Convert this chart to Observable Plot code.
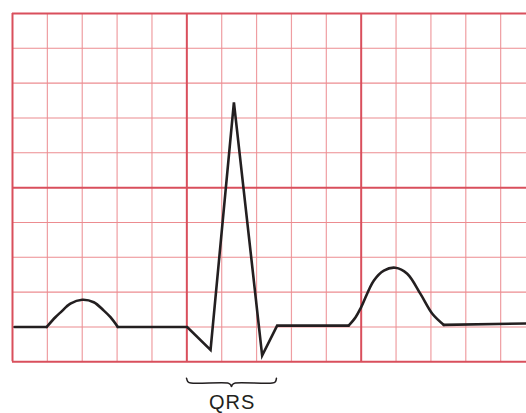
<!DOCTYPE html>
<html>
<head>
<meta charset="utf-8">
<script src="https://cdn.jsdelivr.net/npm/d3@7"></script>
<script src="https://cdn.jsdelivr.net/npm/@observablehq/plot@0.6"></script>
<style>
  html, body { margin: 0; padding: 0; background: #fff; }
  #chart svg { display: block; }
  #chart svg text { letter-spacing: 1px; }
</style>
</head>
<body>
<div id="chart"></div>
<script>
// Grid (ECG paper, small-square units)
const minorX = [1, 2, 3, 4, 6, 7, 8, 9, 11, 12, 13, 14];
const majorX = [0, 5, 10];
const minorY = [1, 2, 3, 4, 6, 7, 8, 9];
const majorY = [0, 5, 10];

// Trace: flat lead-in
const leadX = [0.06, 0.98];
const leadY = [1.0, 1.0];
// P wave
const pWaveX = [0.98, 1.23, 1.38, 1.66, 2.0, 2.33, 2.62, 2.81, 3.02];
const pWaveY = [1.0, 1.28, 1.42, 1.67, 1.78, 1.71, 1.47, 1.28, 1.0];
// PR segment + QRS complex + ST segment
const qrsX = [3.02, 5.01, 5.68, 6.35, 7.16, 7.59, 9.64];
const qrsY = [1.0, 1.0, 0.34, 7.45, 0.18, 1.04, 1.04];
// T wave
const tWaveX = [9.64, 9.84, 10.0, 10.36, 10.65, 10.98, 11.32, 11.70, 12.04, 12.37];
const tWaveY = [1.04, 1.28, 1.57, 2.33, 2.62, 2.70, 2.53, 1.95, 1.38, 1.06];
// trailing baseline
const tailX = [12.37, 14.74];
const tailY = [1.06, 1.10];

// QRS brace and label
const braceX = [4.99, 5.03, 5.12, 6.17, 6.25, 6.28, 6.31, 6.39, 7.45, 7.54, 7.57];
const braceY = [-0.47, -0.57, -0.61, -0.61, -0.65, -0.71, -0.65, -0.61, -0.61, -0.57, -0.47];
const labels = ["QRS"];
const labelX = [6.30];
const labelY = [-1.36];

const pts = (xs, ys) => xs.map((x, i) => ({x, y: ys[i]}));
const xMax = 14.741;

const chart = Plot.plot({
  width: 526,
  height: 413,
  margin: 0,
  x: {domain: [-0.344, xMax], axis: null},
  y: {domain: [-1.484, 10.373], axis: null},
  style: {background: "#fff", overflow: "visible"},
  marks: [
    Plot.ruleX(minorX, {x: d => d, y1: 0, y2: 10, stroke: "#ef9ea2", strokeWidth: 1.2}),
    Plot.ruleY(minorY, {y: d => d, x1: 0, x2: xMax, stroke: "#ec8c90", strokeWidth: 1.1}),
    Plot.ruleX(majorX, {x: d => d, y1: 0, y2: 10, stroke: "#d94f5c", strokeWidth: 2}),
    Plot.ruleY(majorY, {y: d => d, x1: 0, x2: xMax, stroke: "#d94f5c", strokeWidth: 2}),
    Plot.line(pts(leadX, leadY), {x: "x", y: "y", stroke: "#231f20", strokeWidth: 2.6}),
    Plot.line(pts(pWaveX, pWaveY), {x: "x", y: "y", stroke: "#231f20", strokeWidth: 2.6, curve: "catmull-rom"}),
    Plot.line(pts(qrsX, qrsY), {x: "x", y: "y", stroke: "#231f20", strokeWidth: 2.6, strokeLinejoin: "miter", strokeMiterlimit: 4}),
    Plot.line(pts(tWaveX, tWaveY), {x: "x", y: "y", stroke: "#231f20", strokeWidth: 2.6, curve: "catmull-rom"}),
    Plot.line(pts(tailX, tailY), {x: "x", y: "y", stroke: "#231f20", strokeWidth: 2.6}),
    Plot.line(pts(braceX, braceY), {x: "x", y: "y", stroke: "#231f20", strokeWidth: 1.5, curve: "catmull-rom"}),
    Plot.text(labels, {x: (d, i) => labelX[i], y: (d, i) => labelY[i], text: d => d, textAnchor: "middle", lineAnchor: "bottom", fontSize: 20, fill: "#231f20", fontFamily: "Liberation Sans, Arial, sans-serif"})
  ]
});
document.getElementById("chart").appendChild(chart);
</script>
</body>
</html>
